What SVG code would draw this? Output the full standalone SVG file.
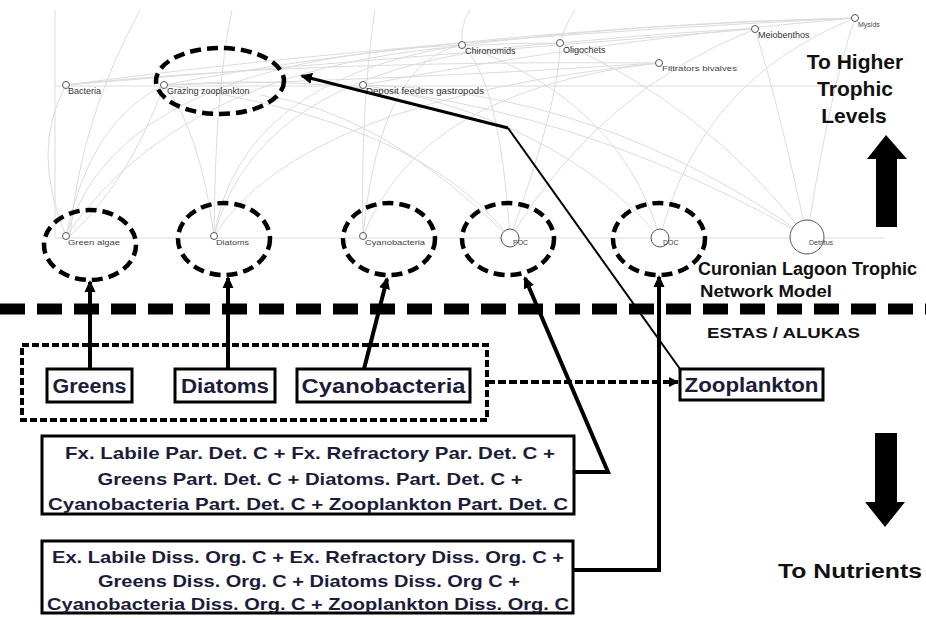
<svg xmlns="http://www.w3.org/2000/svg" width="926" height="618" viewBox="0 0 926 618">
<style>
.g{fill:none;stroke:#dcdcdc;stroke-width:1}
.nd{fill:#fff;stroke:#555;stroke-width:1}
.nl{font-family:"Liberation Sans",Arial,sans-serif;font-size:9px;fill:#333}
.nls{font-family:"Liberation Sans",Arial,sans-serif;font-size:7px;fill:#444}
.de{fill:none;stroke:#000;stroke-width:4.5;stroke-dasharray:11 6}
.bx{fill:#fff;stroke:#000;stroke-width:3}
.bt{font-family:"Liberation Sans",Arial,sans-serif;font-weight:bold;font-size:20px;fill:#1c1c3a}
.ft{font-family:"Liberation Sans",Arial,sans-serif;font-weight:bold;font-size:17px;fill:#1c1c3a}
.tt{font-family:"Liberation Sans",Arial,sans-serif;font-weight:bold;fill:#111}
.ln{fill:none;stroke:#000;stroke-width:4}
</style>
<defs>
<marker id="ah" markerWidth="12" markerHeight="12" refX="10" refY="6" orient="auto" markerUnits="userSpaceOnUse"><path d="M0,0.5 L12,6 L0,11.5 Z" fill="#000"/></marker>
<marker id="ah2" markerWidth="10" markerHeight="10" refX="9" refY="5" orient="auto" markerUnits="userSpaceOnUse"><path d="M0,0 L10,5 L0,10 Z" fill="#000"/></marker>
</defs>

<g id="network-edges">
<path class="g" d="M55,10 L55,238"/>
<path class="g" d="M55,238 L885,238"/>
<path class="g" d="M55,86 L890,86"/>
<path class="g" d="M66,85 Q300,60 659,63"/>
<path class="g" d="M66,236 Q90,120 164,85"/>
<path class="g" d="M66,236 Q120,60 462,45"/>
<path class="g" d="M66,236 Q200,40 560,43"/>
<path class="g" d="M70,236 Q80,120 140,10"/>
<path class="g" d="M214,236 Q200,130 164,85"/>
<path class="g" d="M214,236 Q240,80 462,45"/>
<path class="g" d="M214,236 Q260,60 560,43"/>
<path class="g" d="M214,236 Q300,100 659,63"/>
<path class="g" d="M214,236 Q215,90 232,10"/>
<path class="g" d="M363,236 Q420,90 659,63"/>
<path class="g" d="M363,236 Q380,60 462,45"/>
<path class="g" d="M363,236 Q360,110 375,10"/>
<path class="g" d="M510,238 Q420,120 164,85"/>
<path class="g" d="M510,238 Q500,80 462,45"/>
<path class="g" d="M510,238 Q560,100 560,43"/>
<path class="g" d="M510,238 Q600,90 755,29"/>
<path class="g" d="M510,238 Q380,110 260,95"/>
<path class="g" d="M660,238 Q620,100 462,45"/>
<path class="g" d="M660,238 Q700,80 855,18"/>
<path class="g" d="M660,238 Q560,120 363,85"/>
<path class="g" d="M807,237 Q780,110 755,29"/>
<path class="g" d="M807,237 Q830,90 855,18"/>
<path class="g" d="M807,237 Q600,90 363,85"/>
<path class="g" d="M807,237 Q500,60 164,85"/>
<path class="g" d="M807,237 Q700,100 560,43"/>
<path class="g" d="M66,85 Q400,40 855,18"/>
<path class="g" d="M66,85 Q400,58 755,29"/>
<path class="g" d="M164,85 Q450,30 855,18"/>
<path class="g" d="M164,85 Q400,80 659,63"/>
<path class="g" d="M363,85 Q600,40 855,18"/>
<path class="g" d="M462,45 Q650,22 855,18"/>
<path class="g" d="M560,43 Q700,30 755,29"/>
<path class="g" d="M462,45 Q460,25 470,10"/>
<path class="g" d="M560,43 Q565,25 575,10"/>
<path class="g" d="M66,85 Q30,150 66,236"/>
<path class="g" d="M164,85 Q130,180 70,236"/>
</g>

<g id="node-bacteria"><circle class="nd" cx="66" cy="85" r="3.5"/><text class="nl" x="68" y="94">Bacteria</text></g>
<g id="node-grazing-zooplankton"><circle class="nd" cx="164" cy="85" r="3.5"/><text class="nl" x="167" y="94">Grazing zooplankton</text></g>
<g id="node-deposit-feeders"><circle class="nd" cx="363" cy="85" r="3.5"/><text class="nl" x="366" y="94" textLength="118" lengthAdjust="spacingAndGlyphs">Deposit feeders gastropods</text></g>
<g id="node-chironomids"><circle class="nd" cx="462" cy="45" r="3.5"/><text class="nl" x="465" y="54">Chironomids</text></g>
<g id="node-oligochets"><circle class="nd" cx="560" cy="43" r="3.5"/><text class="nl" x="563" y="53">Oligochets</text></g>
<g id="node-filtrators"><circle class="nd" cx="659" cy="63" r="3.5"/><text class="nls" x="662" y="71" textLength="75" lengthAdjust="spacingAndGlyphs">Filtrators bivalves</text></g>
<g id="node-meiobenthos"><circle class="nd" cx="755" cy="29" r="3.5"/><text class="nl" x="758" y="38">Meiobenthos</text></g>
<g id="node-mysids"><circle class="nd" cx="855" cy="18" r="3.5"/><text class="nls" x="858" y="27">Mysids</text></g>

<g id="node-green-algae"><circle class="nd" cx="66" cy="236" r="3.5"/><text class="nls" x="68" y="245" textLength="52" lengthAdjust="spacingAndGlyphs">Green algae</text></g>
<g id="node-diatoms"><circle class="nd" cx="214" cy="236" r="3.5"/><text class="nls" x="216" y="245" textLength="33" lengthAdjust="spacingAndGlyphs">Diatoms</text></g>
<g id="node-cyanobacteria"><circle class="nd" cx="363" cy="236" r="3.5"/><text class="nls" x="365" y="245" textLength="60" lengthAdjust="spacingAndGlyphs">Cyanobacteria</text></g>
<g id="node-poc"><circle class="nd" cx="510" cy="238" r="9"/><text class="nls" x="513" y="245">POC</text></g>
<g id="node-doc"><circle class="nd" cx="660" cy="238" r="9"/><text class="nls" x="663" y="245">DOC</text></g>
<g id="node-detritus"><circle class="nd" cx="807" cy="237" r="17"/><text class="nls" x="809" y="245">Detritus</text></g>

<g id="highlight-ellipses">
<ellipse class="de" cx="220" cy="81" rx="64" ry="33"/>
<ellipse class="de" cx="90" cy="245" rx="46" ry="35"/>
<ellipse class="de" cx="224" cy="239" rx="46" ry="36"/>
<ellipse class="de" cx="389" cy="239" rx="46" ry="36"/>
<ellipse class="de" cx="508" cy="239" rx="46" ry="36"/>
<ellipse class="de" cx="659" cy="239" rx="46" ry="36"/>
</g>

<g id="divider">
<line x1="0" y1="309" x2="926" y2="309" stroke="#000" stroke-width="11" stroke-dasharray="25 12"/>
</g>

<g id="labels">
<text class="tt" x="698" y="275" font-size="18" fill="#222244">Curonian Lagoon Trophic</text>
<text class="tt" x="700" y="297" font-size="17" fill="#222244" textLength="132" lengthAdjust="spacingAndGlyphs">Network Model</text>
<text class="tt" x="707" y="338" font-size="15" fill="#222244" textLength="153" lengthAdjust="spacingAndGlyphs">ESTAS / ALUKAS</text>
<text class="tt" x="855" y="69" font-size="21" text-anchor="middle">To Higher</text>
<text class="tt" x="855" y="96" font-size="21" text-anchor="middle">Trophic</text>
<text class="tt" x="854" y="123" font-size="21" text-anchor="middle">Levels</text>
<text class="tt" x="778" y="578" font-size="20" textLength="144" lengthAdjust="spacingAndGlyphs">To Nutrients</text>
</g>

<g id="big-arrows">
<path d="M876,227 L876,159 L867,159 L886,135 L907,159 L897,159 L897,227 Z" fill="#000"/>
<path d="M875,433 L897,433 L897,502 L905,502 L885,527 L865,502 L875,502 Z" fill="#000"/>
</g>

<g id="estas-group">
<rect x="22" y="345" width="465" height="75" fill="none" stroke="#000" stroke-width="4" stroke-dasharray="7 3"/>
</g>
<g id="box-greens"><rect class="bx" x="47" y="369" width="85" height="33"/><text class="bt" x="89.5" y="393" text-anchor="middle" textLength="74" lengthAdjust="spacingAndGlyphs">Greens</text></g>
<g id="box-diatoms"><rect class="bx" x="175" y="369" width="100" height="33"/><text class="bt" x="225" y="393" text-anchor="middle" textLength="88" lengthAdjust="spacingAndGlyphs">Diatoms</text></g>
<g id="box-cyanobacteria"><rect class="bx" x="297" y="369" width="173" height="33"/><text class="bt" x="383.5" y="393" text-anchor="middle" textLength="164" lengthAdjust="spacingAndGlyphs">Cyanobacteria</text></g>
<g id="box-zooplankton"><rect class="bx" x="680" y="369" width="143" height="31"/><text class="bt" x="751.5" y="392" text-anchor="middle" textLength="134" lengthAdjust="spacingAndGlyphs">Zooplankton</text></g>

<g id="box-particulate">
<rect class="bx" x="42" y="436" width="532" height="78"/>
<text class="ft" x="310" y="459" text-anchor="middle" textLength="490" lengthAdjust="spacingAndGlyphs">Fx. Labile Par. Det. C + Fx. Refractory Par. Det. C +</text>
<text class="ft" x="310" y="485" text-anchor="middle" textLength="425" lengthAdjust="spacingAndGlyphs">Greens Part. Det. C + Diatoms. Part. Det. C +</text>
<text class="ft" x="308" y="510" text-anchor="middle" textLength="520" lengthAdjust="spacingAndGlyphs">Cyanobacteria Part. Det. C + Zooplankton Part. Det. C</text>
</g>
<g id="box-dissolved">
<rect class="bx" x="42" y="541" width="531" height="72"/>
<text class="ft" x="308" y="563" text-anchor="middle" textLength="512" lengthAdjust="spacingAndGlyphs">Ex. Labile Diss. Org. C + Ex. Refractory Diss. Org. C +</text>
<text class="ft" x="309" y="587" text-anchor="middle" textLength="422" lengthAdjust="spacingAndGlyphs">Greens Diss. Org. C + Diatoms Diss. Org C +</text>
<text class="ft" x="308" y="610" text-anchor="middle" textLength="522" lengthAdjust="spacingAndGlyphs">Cyanobacteria Diss. Org. C + Zooplankton Diss. Org. C</text>
</g>

<g id="connectors">
<line class="ln" x1="90" y1="369" x2="90" y2="282" marker-end="url(#ah)"/>
<line class="ln" x1="228" y1="369" x2="228" y2="278" marker-end="url(#ah)"/>
<line class="ln" x1="364" y1="369" x2="387" y2="279" marker-end="url(#ah)"/>
<polyline class="ln" points="574,472 608,472 525,278" marker-end="url(#ah)"/>
<polyline class="ln" points="573,570 659,570 659,277" marker-end="url(#ah)"/>
<line x1="487" y1="382" x2="678" y2="382" stroke="#000" stroke-width="4" stroke-dasharray="8 3" marker-end="url(#ah2)"/>
<polyline points="680,369 508,128" fill="none" stroke="#000" stroke-width="2"/>
<polyline points="508,128 302,76" fill="none" stroke="#000" stroke-width="3" marker-end="url(#ah)"/>
</g>
</svg>
